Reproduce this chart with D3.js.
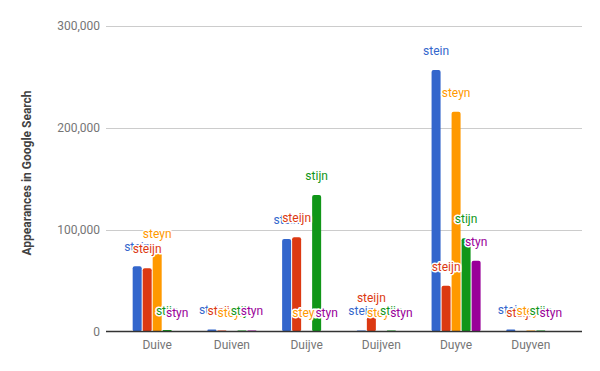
<!DOCTYPE html>
<html lang="en">
<head>
  <meta charset="UTF-8">
  <title>Appearances in Google Search</title>
  <script src="https://cdn.jsdelivr.net/npm/d3@7.8.5/dist/d3.min.js"></script>
  <style>
    html, body { margin: 0; padding: 0; background: #fff; }
    body { font-family: Roboto, 'Noto Sans', sans-serif; }
    .halo { paint-order: stroke; stroke: #fff; stroke-width: 3px; stroke-linejoin: round; }
  </style>
</head>
<body>
  <svg id="chart"></svg>
  <script>
    // chart data
    const categories = ["Duive", "Duiven", "Duijve", "Duijven", "Duyve", "Duyven"];
    const seriesNames = ["stein", "steijn", "steyn", "stijn", "styn"];
    const seriesColors = ["#3366cc", "#dc3912", "#ff9900", "#109618", "#990099"];
    const stein  = [64000, 2000, 90800, 1000, 256800, 2000];
    const steijn = [62000, 1000, 92500, 14000, 45000, 0];
    const steyn  = [76800, 0, 0, 0, 215800, 1000];
    const stijn  = [1500, 1000, 134000, 1000, 91500, 1000];
    const styn   = [0, 1000, 0, 0, 69500, 0];
    const yTicks = [0, 100000, 200000, 300000];

    const values = [stein, steijn, steyn, stijn, styn];
    const width = 600, height = 371;
    const svg = d3.select("#chart").attr("width", width).attr("height", height);

    const x0 = d3.scaleBand()
      .domain(categories)
      .range([106, 582])
      .paddingInner(0.344)
      .paddingOuter(0.357);
    const x1 = d3.scaleBand()
      .domain(seriesNames)
      .range([0, x0.bandwidth()])
      .paddingInner(0.1);
    const y = d3.scaleLinear().domain([0, 300000]).range([331.5, 26]);
    const fmt = d3.format(",");

    // gridlines + tick labels
    const grid = svg.append("g");
    grid.selectAll("line")
      .data(yTicks.filter(d => d > 0))
      .enter()
      .append("line")
      .attr("x1", 106).attr("x2", 582)
      .attr("y1", d => Math.round(y(d)) + 0.5)
      .attr("y2", d => Math.round(y(d)) + 0.5)
      .attr("stroke", "#cccccc");
    grid.selectAll("text")
      .data(yTicks)
      .enter()
      .append("text")
      .attr("x", 100)
      .attr("y", d => y(d))
      .attr("dy", "0.35em")
      .attr("text-anchor", "end")
      .attr("font-size", 12)
      .attr("fill", "#757575")
      .text(d => fmt(d));

    // flatten into rows
    const rows = [];
    categories.forEach((c, i) => {
      seriesNames.forEach((s, j) => {
        rows.push({ cat: c, series: s, color: seriesColors[j], value: values[j][i] });
      });
    });

    svg.append("g")
      .selectAll("rect")
      .data(rows)
      .enter()
      .append("rect")
      .attr("x", d => x0(d.cat) + x1(d.series))
      .attr("y", d => y(d.value))
      .attr("width", x1.bandwidth())
      .attr("height", d => y(0) - y(d.value))
      .attr("rx", d => Math.min(2, (y(0) - y(d.value)) / 2))
      .attr("fill", d => d.color);

    // baseline
    svg.append("line")
      .attr("x1", 106).attr("x2", 582)
      .attr("y1", y(0)).attr("y2", y(0))
      .attr("stroke", "#333333")
      .attr("stroke-width", 1.5);

    // annotations
    svg.append("g")
      .selectAll("text")
      .data(rows)
      .enter()
      .append("text")
      .attr("class", "halo")
      .attr("x", d => x0(d.cat) + x1(d.series) + x1.bandwidth() / 2)
      .attr("y", d => y(d.value) - 15)
      .attr("text-anchor", "middle")
      .attr("font-size", 12)
      .attr("fill", d => d.color)
      .text(d => d.series);

    // category labels
    svg.append("g")
      .selectAll("text")
      .data(categories)
      .enter()
      .append("text")
      .attr("x", d => x0(d) + x0.bandwidth() / 2)
      .attr("y", 348.5)
      .attr("text-anchor", "middle")
      .attr("font-size", 12)
      .attr("fill", "#757575")
      .text(d => d);

    // y axis title
    svg.append("text")
      .attr("transform", "translate(30.5,173) rotate(-90)")
      .attr("text-anchor", "middle")
      .attr("font-size", 12)
      .attr("font-weight", "bold")
      .attr("fill", "#424242")
      .text("Appearances in Google Search");
  </script>
</body>
</html>
